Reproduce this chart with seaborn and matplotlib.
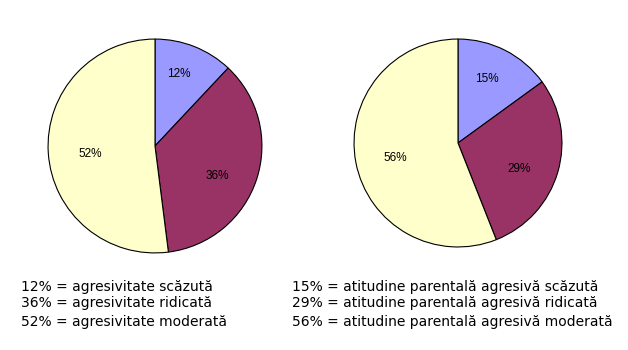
import matplotlib
matplotlib.use("Agg")
import matplotlib.pyplot as plt
import numpy as np
import seaborn as sns

sns.set_theme(style="white")
plt.rcParams['font.family'] = ['Liberation Sans', 'DejaVu Sans']

values_left = [12, 36, 52]
values_right = [15, 29, 56]
colors = ["#9999FF", "#993366", "#FFFFCC"]
legend_left = ["12% = agresivitate scăzută",
               "36% = agresivitate ridicată",
               "52% = agresivitate moderată"]
legend_right = ["15% = atitudine parentală agresivă scăzută",
                "29% = atitudine parentală agresivă ridicată",
                "56% = atitudine parentală agresivă moderată"]
# small vertical nudges of the percentage labels (in radius units)
nudge_left = [0.11, -0.09, -0.04]
nudge_right = [0.07, -0.08, -0.03]

W, H = 628, 350
fig = plt.figure(figsize=(W / 100, H / 100), dpi=100)
fig.patch.set_facecolor("white")


def make_pie(cx, cy, r, vals, nudges):
    ax = fig.add_axes([(cx - r) / W, (H - cy - r) / H, 2 * r / W, 2 * r / H])
    wedges, texts, autotexts = ax.pie(
        vals, colors=colors, startangle=90, counterclock=False,
        autopct=lambda p: f"{round(p)}%", pctdistance=0.61,
        wedgeprops=dict(edgecolor="black", linewidth=0.8),
        textprops=dict(fontsize=8.5, color="black"))
    for w, t, n in zip(wedges, autotexts, nudges):
        x, y = t.get_position()
        t.set_position((x, y + n))
    ax.set_xlim(-1.01, 1.01)
    ax.set_ylim(-1.01, 1.01)
    ax.set_axis_off()
    return ax


make_pie(155, 146, 108, values_left, nudge_left)
make_pie(458, 143, 105, values_right, nudge_right)

ys = [287, 303, 322]
for txt, y in zip(legend_left, ys):
    fig.text(21 / W, 1 - y / H, txt, fontsize=10, va="center", ha="left",
             color="black", family="DejaVu Sans")
for txt, y in zip(legend_right, ys):
    fig.text(292 / W, 1 - y / H, txt, fontsize=10, va="center", ha="left",
             color="black", family="DejaVu Sans")

fig.savefig("out.png", dpi=100, facecolor="white")
